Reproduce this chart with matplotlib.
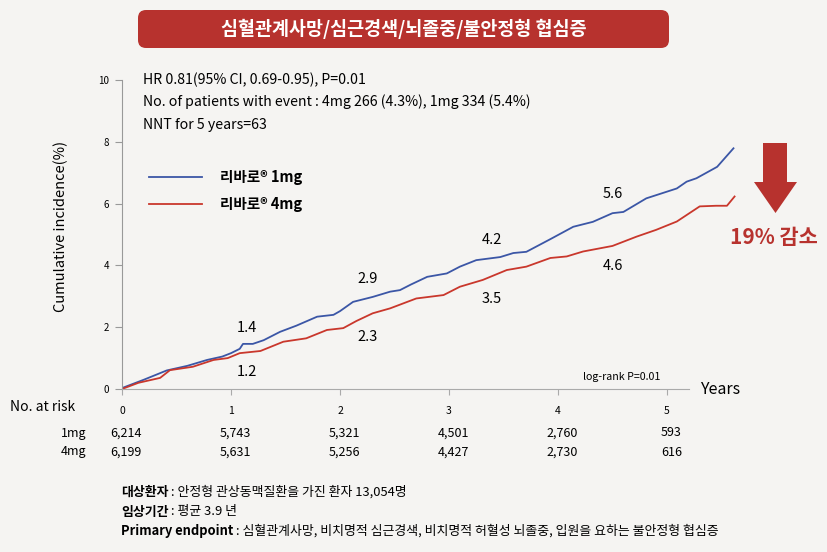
import numpy as np
import matplotlib.pyplot as plt
from matplotlib.patches import FancyBboxPatch, Polygon
from matplotlib.transforms import blended_transform_factory

plt.rcParams['font.family'] = ['Noto Sans CJK KR', 'DejaVu Sans']

# curves (years, cumulative incidence %)
blue_t = [0, 0.2, 0.41, 0.6, 0.78, 0.92, 1.0, 1.08, 1.11, 1.2, 1.3, 1.45, 1.6, 1.79, 1.94, 2.0,
          2.12, 2.3, 2.46, 2.55, 2.65, 2.8, 2.98, 3.1, 3.25, 3.47, 3.59, 3.71, 3.93, 4.14, 4.32,
          4.5, 4.6, 4.81, 5.09, 5.18, 5.27, 5.46, 5.61]
blue_v = [0.03, 0.3, 0.6, 0.75, 0.94, 1.05, 1.16, 1.3, 1.46, 1.46, 1.58, 1.85, 2.05, 2.34, 2.4, 2.52,
          2.82, 2.98, 3.15, 3.2, 3.38, 3.63, 3.74, 3.96, 4.17, 4.27, 4.4, 4.44, 4.85, 5.25, 5.41,
          5.69, 5.73, 6.17, 6.49, 6.71, 6.82, 7.19, 7.79]
red_t = [0, 0.15, 0.35, 0.44, 0.65, 0.84, 0.97, 1.08, 1.27, 1.48, 1.69, 1.88, 2.03, 2.15, 2.3, 2.46,
         2.7, 2.95, 3.1, 3.31, 3.53, 3.71, 3.93, 4.08, 4.23, 4.5, 4.72, 4.9, 5.09, 5.3, 5.45, 5.55, 5.62]
red_v = [0.0, 0.2, 0.36, 0.61, 0.72, 0.94, 1.0, 1.16, 1.23, 1.53, 1.64, 1.91, 1.97, 2.2, 2.45, 2.61,
         2.93, 3.04, 3.31, 3.53, 3.85, 3.96, 4.24, 4.29, 4.45, 4.63, 4.93, 5.15, 5.42, 5.91, 5.93, 5.93, 6.23]

label_years = [1, 2, 3, 4]
labels_1mg = ['1.4', '2.9', '4.2', '5.6']
labels_4mg = ['1.2', '2.3', '3.5', '4.6']

risk_years = [0, 1, 2, 3, 4, 5]
risk_1mg = ['6,214', '5,743', '5,321', '4,501', '2,760', '593']
risk_4mg = ['6,199', '5,631', '5,256', '4,427', '2,730', '616']

blue = '#3b56a6'
red = '#c9372c'
dark_red = '#b7322e'
bg = '#f5f4f2'

fig = plt.figure(figsize=(8.27, 5.52), dpi=100, facecolor=bg)
ax = fig.add_axes([122/827, 1-389/552, 618/827, 309/552])
ax.set_facecolor(bg)
ax.set_xlim(0, 618/109)
ax.set_ylim(0, 10)

ax.plot(blue_t, blue_v, color=blue, lw=1.3, label='리바로® 1mg')
ax.plot(red_t, red_v, color=red, lw=1.3, label='리바로® 4mg')

for s in ['top', 'right']:
    ax.spines[s].set_visible(False)
ax.spines['left'].set_color('#999999')
ax.spines['bottom'].set_color('#aaaaaa')
ax.spines['bottom'].set_bounds(0, 5.2)
ax.set_yticks(range(0, 11, 2))
ax.set_xticks(risk_years)
ax.tick_params(axis='y', labelsize=7, length=5, color='#999999', pad=4)
ax.tick_params(axis='x', labelsize=7.5, length=4, color='#aaaaaa', pad=8)
ax.set_ylabel('Cumulative incidence(%)', fontsize=10.5)
ax.yaxis.set_label_coords(-0.087, 0.527)

# value labels beside the curves
x_1mg = [1.15, 2.25, 3.39, 4.5]
y_1mg = [1.97, 3.56, 4.82, 6.31]
y_4mg = [0.55, 1.68, 2.91, 3.98]
for i, yr in enumerate(label_years):
    ax.text(x_1mg[i], y_1mg[i], labels_1mg[i], fontsize=10.5, ha='center', va='center')
    ax.text(x_1mg[i], y_4mg[i], labels_4mg[i], fontsize=10.5, ha='center', va='center')

leg = ax.legend(loc='upper left', bbox_to_anchor=(0.044, 0.712), frameon=False,
                handlelength=3.6, handletextpad=1.25, labelspacing=0.75,
                borderpad=0, borderaxespad=0,
                prop={'weight': 'bold', 'size': 10.5})

ax.text(4.94, 0.38, 'log-rank P=0.01', fontsize=7.7, ha='right', va='center')
ax.text(5.3, 0.0, 'Years', fontsize=11.5, ha='left', va='center')

# header text above plot
fig.text(143/827, 1-80/552, 'HR 0.81(95% CI, 0.69-0.95), P=0.01', fontsize=10.2, va='center')
fig.text(143/827, 1-102/552, 'No. of patients with event : 4mg 266 (4.3%), 1mg 334 (5.4%)', fontsize=10.2, va='center')
fig.text(143/827, 1-125/552, 'NNT for 5 years=63', fontsize=10.2, va='center')

# banner
fig.add_artist(FancyBboxPatch((1.38, 5.04), 5.31, 0.38, boxstyle='round,pad=0,rounding_size=0.08',
                              transform=fig.dpi_scale_trans, facecolor=dark_red, edgecolor='none'))
fig.text(404/827, 1-29/552, '심혈관계사망/심근경색/뇌졸중/불안정형 협심증', fontsize=13.3,
         color='white', weight='bold', ha='center', va='center')

# arrow + reduction text
fig.add_artist(Polygon([(7.63, 4.09), (7.87, 4.09), (7.87, 3.70), (7.97, 3.70), (7.755, 3.39),
                        (7.54, 3.70), (7.63, 3.70)], closed=True, transform=fig.dpi_scale_trans,
                       facecolor=dark_red, edgecolor='none'))
fig.text(774/827, 1-237/552, '19% 감소', fontsize=15, color=dark_red, weight='bold',
         ha='center', va='center')

# risk table
tr = blended_transform_factory(ax.transData, fig.transFigure)
fig.text(10/827, 1-407/552, 'No. at risk', fontsize=10, va='center')
fig.text(86/827, 1-433/552, '1mg', fontsize=9, va='center', ha='right')
fig.text(86/827, 1-452/552, '4mg', fontsize=9, va='center', ha='right')
for yr, a, b in zip(risk_years, risk_1mg, risk_4mg):
    ax.text(yr + 0.04, 1-433/552, a, fontsize=9, ha='center', va='center', transform=tr)
    ax.text(yr + 0.04, 1-452/552, b, fontsize=9, ha='center', va='center', transform=tr)

# footnotes
notes = [('대상환자', ' : 안정형 관상동맥질환을 가진 환자 13,054명', 492),
         ('임상기간', ' : 평균 3.9 년', 512),
         ('Primary endpoint', ' : 심혈관계사망, 비치명적 심근경색, 비치명적 허혈성 뇌졸중, 입원을 요하는 불안정형 협심증', 531)]
fig.canvas.draw()
r = fig.canvas.get_renderer()
for head, rest, y in notes:
    t = fig.text(121/827, 1-y/552, head, fontsize=9.3, weight='bold', va='center')
    bb = t.get_window_extent(r)
    fig.text(bb.x1/827, 1-y/552, rest, fontsize=9.3, va='center')

fig.savefig('out.png', dpi=100, facecolor=bg)
